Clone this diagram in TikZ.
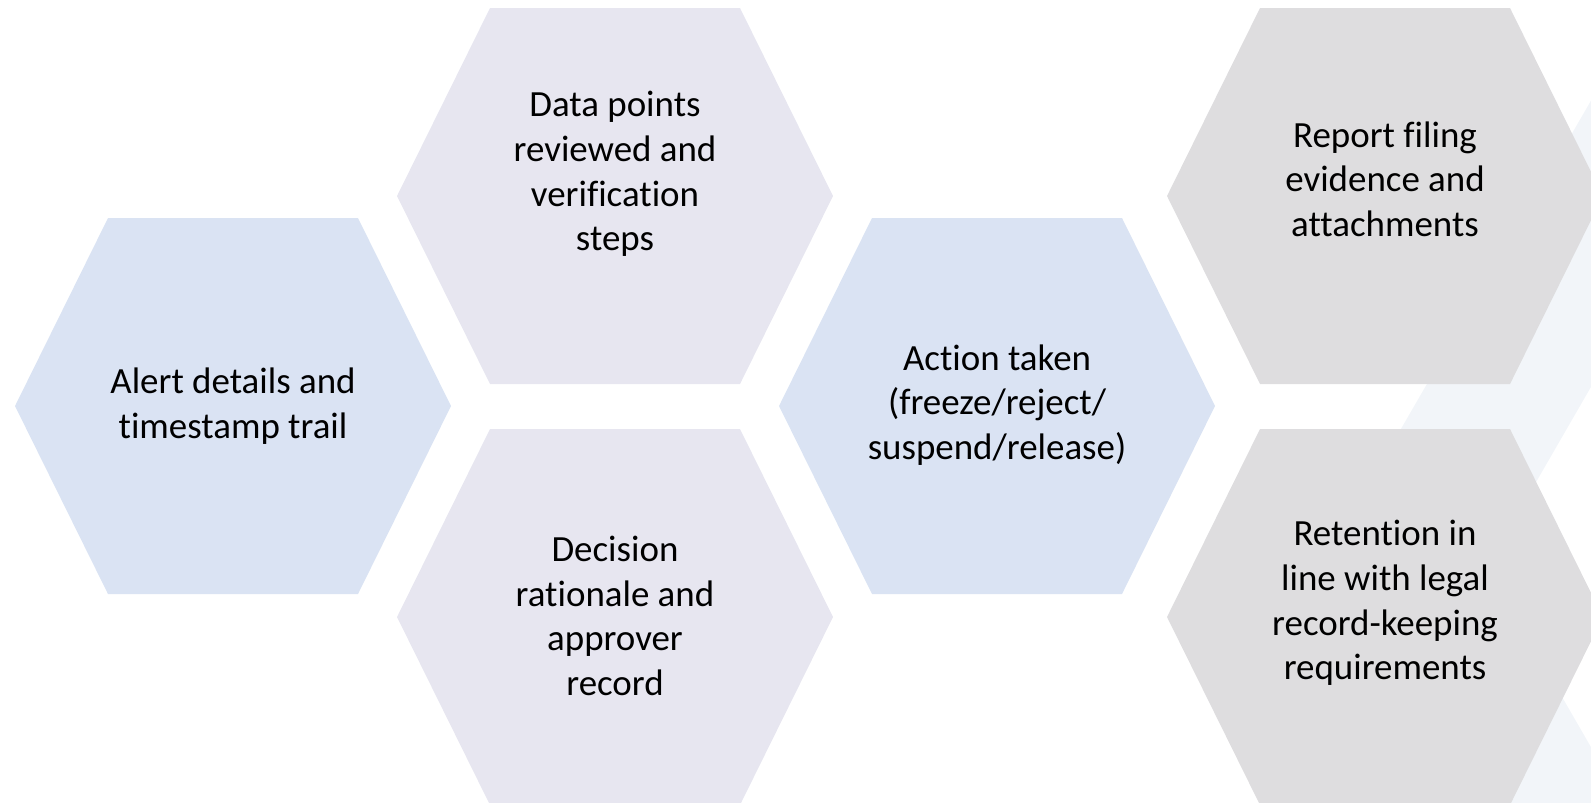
\documentclass[tikz,border=0pt]{standalone}
\usepackage{fontspec}
\setmainfont{Carlito}[Ligatures=NoCommon]

\definecolor{alertblue}{RGB}{218,227,243}
\definecolor{reviewgrey}{RGB}{231,230,240}
\definecolor{recordgrey}{RGB}{222,221,223}
\definecolor{backwash}{RGB}{242,245,249}

% one flat-topped cell around (#1,#2)
\newcommand{\hexcell}[3]{%
  \fill[#3] (#1-218,#2) -- (#1-125,#2-188) -- (#1+125,#2-188)
    -- (#1+218,#2) -- (#1+125,#2+188) -- (#1-125,#2+188) -- cycle;}

\begin{document}
\begin{tikzpicture}[x=0.01cm, y=-0.01cm,
    celltext/.style={align=center, text=black, font=\fontsize{10.5}{12.7}\selectfont}]
	\useasboundingbox (0,0) rectangle (1591,802);
	\clip (0,0) rectangle (1591,802);
	
	%pale ring behind the right column
	\fill[backwash, even odd rule]
		(1321,567) -- (1655,-10) -- (1700,-10) -- (1700,812) -- (1463,812) -- cycle
		(1487,567) -- (1700,198) -- (1700,936) -- cycle;
	
	%cells
	\hexcell{233}{406}{alertblue}
	\hexcell{615}{196}{reviewgrey}
	\hexcell{615}{617}{reviewgrey}
	\hexcell{997}{406}{alertblue}
	\hexcell{1385}{196}{recordgrey}
	\hexcell{1385}{617}{recordgrey}
	
	%texts
	\node[celltext] (alert) at (233,406) {Alert details and\\timestamp trail};
	\node[celltext] (review) at (615,174) {Data points\\reviewed and\\verification\\steps};
	\node[celltext] (decision) at (615,616) {Decision\\rationale and\\approver\\record};
	\node[celltext] (action) at (997,405) {Action taken\\(freeze/reject/\\suspend/release)};
	\node[celltext] (report) at (1385,179) {Report filing\\evidence and\\attachments};
	\node[celltext] (retention) at (1385,603) {Retention in\\line with legal\\record-keeping\\requirements};
\end{tikzpicture}
\end{document}
